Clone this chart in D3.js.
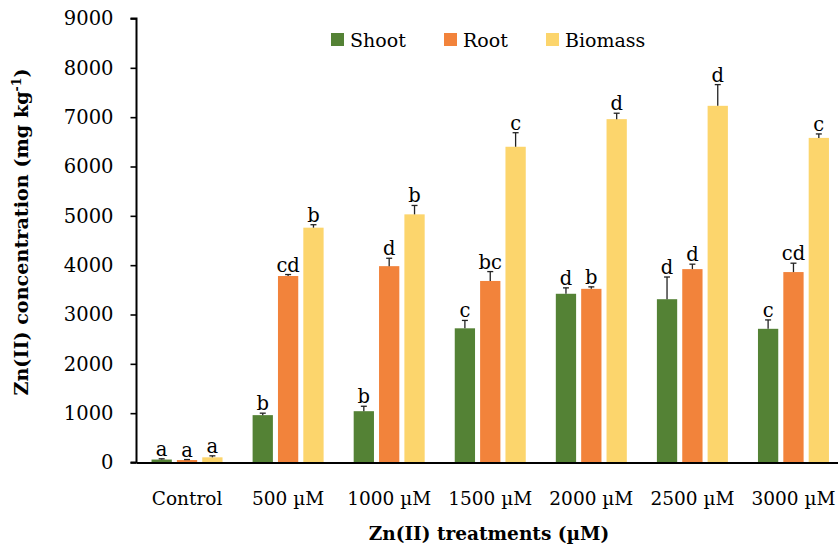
<!DOCTYPE html>
<html>
<head>
<meta charset="utf-8">
<script src="https://cdn.jsdelivr.net/npm/d3@7/dist/d3.min.js"></script>
<style>
  html, body { margin: 0; padding: 0; background: #fff; }
  svg { display: block; }
  text { font-family: "DejaVu Serif", "Liberation Serif", serif; fill: #000; }
</style>
</head>
<body>
<svg id="chart" width="838" height="546"></svg>
<script>
const categories = ["Control", "500 µM", "1000 µM", "1500 µM", "2000 µM", "2500 µM", "3000 µM"];
const seriesNames = ["Shoot", "Root", "Biomass"];
const seriesColors = ["#548235", "#F2833B", "#FCD56C"];
const shootValues   = [60, 960, 1040, 2720, 3420, 3310, 2710];
const rootValues    = [50, 3780, 3980, 3680, 3520, 3920, 3860];
const biomassValues = [105, 4760, 5030, 6400, 6960, 7230, 6580];
const shootErrors   = [15, 40, 100, 160, 120, 450, 180];
const rootErrors    = [10, 30, 160, 190, 40, 100, 180];
const biomassErrors = [30, 60, 180, 285, 120, 430, 80];
const shootLetters   = ["a", "b", "b", "c", "d", "d", "c"];
const rootLetters    = ["a", "cd", "d", "bc", "b", "d", "cd"];
const biomassLetters = ["a", "b", "b", "c", "d", "d", "c"];
const yTicks = [0, 1000, 2000, 3000, 4000, 5000, 6000, 7000, 8000, 9000];

const valuesBySeries = [shootValues, rootValues, biomassValues];
const errorsBySeries = [shootErrors, rootErrors, biomassErrors];
const lettersBySeries = [shootLetters, rootLetters, biomassLetters];

const svg = d3.select("#chart");
const mLeft = 136.5, mRight = 844, mTop = 18.5, mBottom = 462.5;

const x0 = d3.scaleBand().domain(categories).range([mLeft, mRight]).padding(0);
const groupW = 71;
const x1 = d3.scaleBand().domain(seriesNames)
  .range([x0.bandwidth() / 2 - groupW / 2, x0.bandwidth() / 2 + groupW / 2])
  .paddingInner(0.2).paddingOuter(0);
const y = d3.scaleLinear().domain([0, 9000]).range([mBottom, mTop]);

const rows = [];
categories.forEach((c, i) => {
  seriesNames.forEach((s, j) => {
    rows.push({ cat: c, series: s, j, value: valuesBySeries[j][i], err: errorsBySeries[j][i], letter: lettersBySeries[j][i] });
  });
});

// bars
svg.append("g").selectAll("rect").data(rows).join("rect")
  .attr("x", d => x0(d.cat) + x1(d.series))
  .attr("y", d => y(d.value))
  .attr("width", x1.bandwidth())
  .attr("height", d => y(0) - y(d.value))
  .attr("fill", d => seriesColors[d.j]);

// error bars
const eg = svg.append("g").attr("stroke", "#222").attr("stroke-width", 1.3);
rows.forEach(d => {
  const cx = x0(d.cat) + x1(d.series) + x1.bandwidth() / 2;
  eg.append("line").attr("x1", cx).attr("x2", cx).attr("y1", y(d.value)).attr("y2", y(d.value + d.err));
  eg.append("line").attr("x1", cx - 3).attr("x2", cx + 3).attr("y1", y(d.value + d.err)).attr("y2", y(d.value + d.err));
});

// letters
svg.append("g").selectAll("text").data(rows).join("text")
  .attr("x", d => x0(d.cat) + x1(d.series) + x1.bandwidth() / 2)
  .attr("y", d => y(d.value + d.err) - 3)
  .attr("text-anchor", "middle")
  .attr("font-size", 19.5)
  .text(d => d.letter);

// y axis
const yAxis = d3.axisLeft(y).tickValues(yTicks).tickSize(6).tickPadding(17).tickFormat(d3.format("d"));
const ya = svg.append("g").attr("transform", `translate(${mLeft},0)`).call(yAxis);
ya.select(".domain").attr("stroke", "#000").attr("stroke-width", 2).attr("d", `M-6,${mTop}H0V${mBottom}H-6`);
ya.selectAll(".tick line").attr("stroke", "#000").attr("stroke-width", 1.6);
ya.selectAll(".tick text").attr("font-size", 19.5).attr("font-family", "DejaVu Serif").attr("fill", "#000");

// x axis
const xAxis = d3.axisBottom(x0).tickSize(0).tickPadding(29);
const xa = svg.append("g").attr("transform", `translate(0,${mBottom})`).call(xAxis);
xa.select(".domain").attr("stroke", "#000").attr("stroke-width", 2.2);
xa.selectAll(".tick text").attr("font-size", 18.5).attr("font-family", "DejaVu Serif").attr("fill", "#000");

// axis titles
svg.append("text")
  .attr("x", 489).attr("y", 540)
  .attr("text-anchor", "middle")
  .attr("font-size", 18.5).attr("font-weight", "bold")
  .text("Zn(II) treatments (µM)");

const yt = svg.append("text")
  .attr("transform", "translate(28,232) rotate(-90)")
  .attr("text-anchor", "middle")
  .attr("font-size", 19.2).attr("font-weight", "bold");
yt.append("tspan").text("Zn(II) concentration (mg kg");
yt.append("tspan").attr("font-size", 12.5).attr("dy", -7).text("-1");
yt.append("tspan").attr("dy", 7).text(")");

// legend
const legendX = [331, 444, 546];
const lg = svg.append("g");
seriesNames.forEach((s, j) => {
  lg.append("rect").attr("x", legendX[j]).attr("y", 33).attr("width", 13).attr("height", 13).attr("fill", seriesColors[j]);
  lg.append("text").attr("x", legendX[j] + 19).attr("y", 47).attr("font-size", 19).text(s);
});
</script>
</body>
</html>
